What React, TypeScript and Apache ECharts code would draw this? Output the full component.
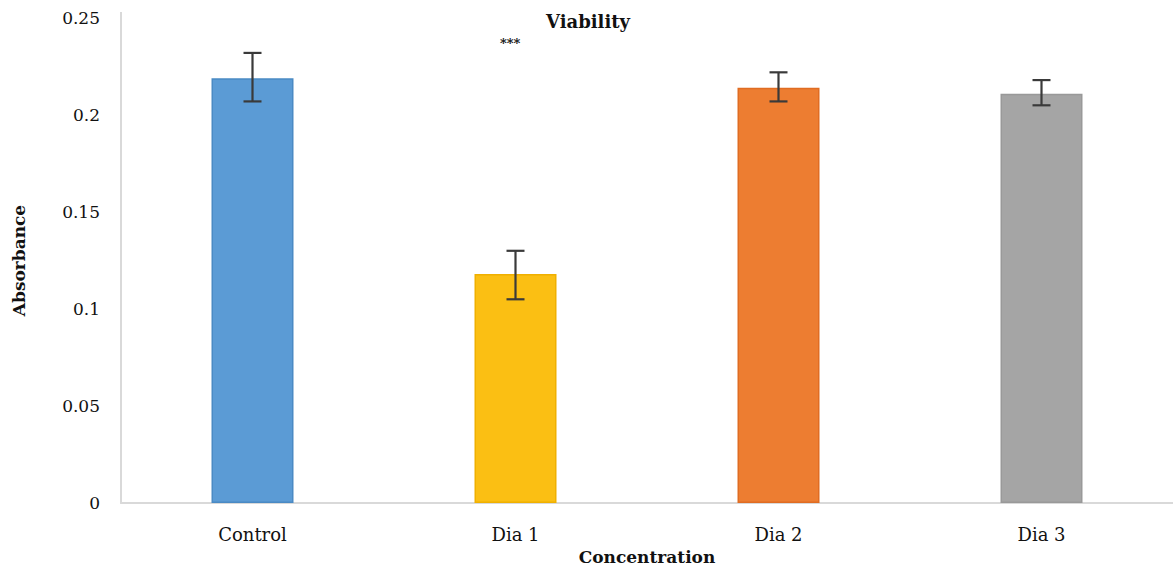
import React, { useEffect, useRef } from "react";
import * as echarts from "echarts";

const categories = ["Control", "Dia 1", "Dia 2", "Dia 3"];
const values = [0.219, 0.118, 0.214, 0.211];
const errLow = [0.207, 0.105, 0.207, 0.205];
const errHigh = [0.232, 0.13, 0.222, 0.218];
const barColors = ["#5b9bd5", "#fbbf13", "#ed7d31", "#a5a5a5"];
const borderColors = ["#4a8ac4", "#f0b000", "#e06c22", "#999999"];
const yTicks = [0, 0.05, 0.1, 0.15, 0.2, 0.25];

const FONT = "'DejaVu Serif', serif";

export default function App() {
  const ref = useRef<HTMLDivElement>(null);
  useEffect(() => {
    document.body.style.margin = "0";
    const chart = echarts.init(ref.current!, null, { renderer: "svg" });
    chart.setOption({
      animation: false,
      title: {
        text: "Viability",
        left: 541,
        top: 7,
        textStyle: { fontFamily: FONT, fontWeight: "bold", fontSize: 18, color: "#111" },
      },
      grid: { left: 121, right: 0, top: 18, bottom: 65, outerBoundsMode: "none", containLabel: false },
      xAxis: {
        type: "category",
        data: categories,
        name: "Concentration",
        nameLocation: "middle",
        nameGap: 45,
        nameTextStyle: { fontFamily: FONT, fontWeight: "bold", fontSize: 17, color: "#111" },
        axisLine: { lineStyle: { color: "#d9d9d9", width: 2 } },
        axisTick: { show: false },
        axisLabel: { fontFamily: FONT, fontSize: 18, color: "#111", margin: 22 },
      },
      yAxis: {
        type: "value",
        min: yTicks[0],
        max: yTicks[yTicks.length - 1],
        interval: 0.05,
        name: "Absorbance",
        nameLocation: "middle",
        nameGap: 94,
        nameRotate: 90,
        nameTextStyle: { fontFamily: FONT, fontWeight: "bold", fontSize: 17, color: "#111" },
        axisLine: { show: true, lineStyle: { color: "#d9d9d9", width: 2 } },
        axisTick: { show: false },
        splitLine: { show: false },
        axisLabel: { fontFamily: FONT, fontSize: 17, color: "#111", margin: 21 },
      },
      series: [
        {
          type: "bar",
          barWidth: 82,
          data: values.map((v, i) => ({
            value: v,
            itemStyle: { color: barColors[i], borderColor: borderColors[i], borderWidth: 1.5 },
          })),
        },
        {
          type: "custom",
          data: categories.map((_, i) => [i, errLow[i], errHigh[i]]),
          z: 10,
          renderItem: (params: any, api: any) => {
            const x = api.value(0);
            const lo = api.coord([x, api.value(1)]);
            const hi = api.coord([x, api.value(2)]);
            const half = 9;
            const style = { stroke: "#3a3a3a", lineWidth: 2.2 };
            return {
              type: "group",
              children: [
                { type: "line", shape: { x1: hi[0], y1: hi[1], x2: lo[0], y2: lo[1] }, style },
                { type: "line", shape: { x1: hi[0] - half, y1: hi[1], x2: hi[0] + half, y2: hi[1] }, style },
                { type: "line", shape: { x1: lo[0] - half, y1: lo[1], x2: lo[0] + half, y2: lo[1] }, style },
              ],
            };
          },
        },
      ],
      graphic: [
        {
          type: "text",
          left: 500,
          top: 37,
          style: { text: "***", fontFamily: FONT, fontWeight: "bold", fontSize: 13, fill: "#111" },
        },
        {
          type: "line",
          shape: { x1: 121, y1: 12, x2: 121, y2: 19 },
          style: { stroke: "#d9d9d9", lineWidth: 2 },
        },
      ],
    });
    return () => chart.dispose();
  }, []);
  return <div ref={ref} style={{ width: 1173, height: 568 }} />;
}
